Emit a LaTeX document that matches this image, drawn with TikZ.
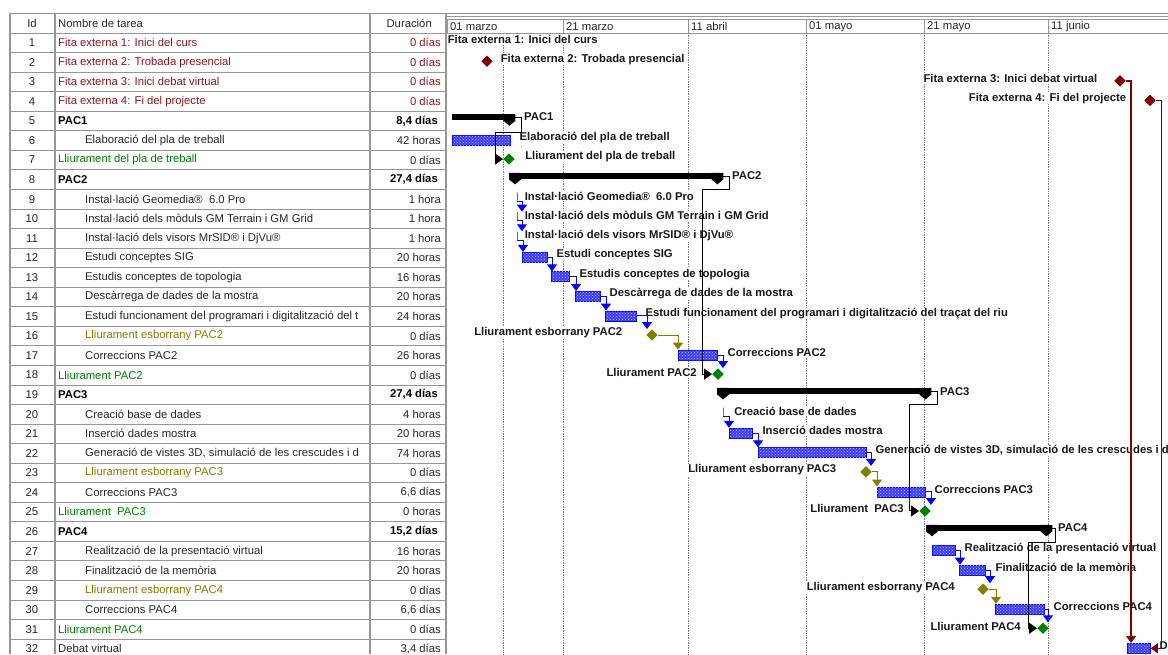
\documentclass[tikz,border=0pt]{standalone}
\usepackage{fontspec}
\setmainfont{Liberation Sans}
\usetikzlibrary{arrows.meta, calc, positioning, shapes.geometric, patterns}

\definecolor{fitared}{RGB}{128,0,0}
\definecolor{fitatext}{RGB}{140,25,25}
\definecolor{lliugreen}{RGB}{0,128,0}
\definecolor{esbolive}{RGB}{128,128,0}
\definecolor{barblue}{RGB}{60,60,250}
\definecolor{rulegray}{RGB}{150,150,150}
\definecolor{celltext}{RGB}{40,40,40}

% row centre (pixels, downwards)
\newcommand{\ry}[1]{23.2+19.55*#1}

\tikzset{
  every node/.style={inner sep=0pt, font=\fontsize{11.3}{13}\selectfont},
  rule/.style={draw=rulegray, line width=0.8pt},
  idcell/.style={text=celltext},
  namecell/.style={anchor=west, text=celltext},
  durcell/.style={anchor=east, text=celltext},
  sumcell/.style={font=\fontsize{11.3}{13}\selectfont\bfseries, text=black},
  fitacell/.style={text=fitatext},
  lliucell/.style={text=lliugreen},
  esbocell/.style={text=esbolive},
  datecell/.style={anchor=west, text=celltext},
  gridline/.style={densely dotted, draw=gray, line width=0.7pt},
  taskbar/.style={draw=blue, line width=0.8pt, fill=barblue, minimum height=10pt, anchor=west,
    postaction={pattern=crosshatch dots, pattern color=white!75!blue}},
  tickbar/.style={draw=blue, line width=1pt, minimum height=8pt, minimum width=0pt},
  sumbar/.style={fill=black, minimum height=6pt, anchor=west},
  sumcap/.style={fill=black},
  fitamark/.style={diamond, fill=fitared, minimum size=11.5pt},
  lliumark/.style={diamond, fill=lliugreen, minimum size=11.5pt},
  esbomark/.style={diamond, fill=esbolive, minimum size=11.5pt},
  tasklabel/.style={font=\fontsize{11.3}{13}\selectfont\bfseries, text=black!90, fill=white, inner sep=0.6pt},
  link/.style={draw=blue, line width=1pt, -{Triangle[width=10pt, length=7pt]}},
  esbolink/.style={draw=esbolive, line width=1pt, -{Triangle[width=10pt, length=7pt]}},
  sumlink/.style={draw=black, line width=1pt, -{Triangle[width=11pt, length=8pt]}},
  fitalink/.style={draw=fitared, line width=1.3pt, -{Triangle[width=10pt, length=7pt]}},
}

\begin{document}
\begin{tikzpicture}[x=1pt, y=-1pt]
  \useasboundingbox (0,0) rectangle (1168,654);
  \fill[white] (0,0) rectangle (1168,654);
  \clip (0,0) rectangle (1168,654);

  % table grid
  \draw[rule] (10,13) -- (446,13);
  \foreach \i in {0,...,32}
    \draw[rule] (10,{33+19.55*\i}) -- (446,{33+19.55*\i});
  \foreach \x in {10,55,370,446}
    \draw[rule, line width=1.2pt] (\x,13) -- (\x,654);

  % table header
  \node[idcell] (hid) at (32,23) {Id};
  \node[namecell] (hname) at (58,23) {Nombre de tarea};
  \node[durcell] (hdur) at (432,23) {Duración};

  % ids
  \foreach \i in {1,...,32}
    \node[idcell] (id\i) at (32,{\ry{\i}}) {\i};

  % task names
  \node[namecell, fitacell] (n1) at (58,{\ry{1}}) {Fita externa 1: Inici del curs};
  \node[namecell, fitacell] (n2) at (58,{\ry{2}}) {Fita externa 2: Trobada presencial};
  \node[namecell, fitacell] (n3) at (58,{\ry{3}}) {Fita externa 3: Inici debat virtual};
  \node[namecell, fitacell] (n4) at (58,{\ry{4}}) {Fita externa 4: Fi del projecte};
  \node[namecell, sumcell] (n5) at (58,{\ry{5}}) {PAC1};
  \node[namecell] (n6) at (85,{\ry{6}}) {Elaboració del pla de treball};
  \node[namecell, lliucell] (n7) at (58,{\ry{7}}) {Lliurament del pla de treball};
  \node[namecell, sumcell] (n8) at (58,{\ry{8}}) {PAC2};
  \node[namecell] (n9) at (85,{\ry{9}}) {Instal·lació Geomedia®\ \ 6.0 Pro};
  \node[namecell] (n10) at (85,{\ry{10}}) {Instal·lació dels mòduls GM Terrain i GM Grid};
  \node[namecell] (n11) at (85,{\ry{11}}) {Instal·lació dels visors MrSID® i DjVu®};
  \node[namecell] (n12) at (85,{\ry{12}}) {Estudi conceptes SIG};
  \node[namecell] (n13) at (85,{\ry{13}}) {Estudis conceptes de topologia};
  \node[namecell] (n14) at (85,{\ry{14}}) {Descàrrega de dades de la mostra};
  \node[namecell] (n15) at (85,{\ry{15}}) {Estudi funcionament del programari i digitalització del t};
  \node[namecell, esbocell] (n16) at (85,{\ry{16}}) {Lliurament esborrany PAC2};
  \node[namecell] (n17) at (85,{\ry{17}}) {Correccions PAC2};
  \node[namecell, lliucell] (n18) at (58,{\ry{18}}) {Lliurament PAC2};
  \node[namecell, sumcell] (n19) at (58,{\ry{19}}) {PAC3};
  \node[namecell] (n20) at (85,{\ry{20}}) {Creació base de dades};
  \node[namecell] (n21) at (85,{\ry{21}}) {Inserció dades mostra};
  \node[namecell] (n22) at (85,{\ry{22}}) {Generació de vistes 3D, simulació de les crescudes i d};
  \node[namecell, esbocell] (n23) at (85,{\ry{23}}) {Lliurament esborrany PAC3};
  \node[namecell] (n24) at (85,{\ry{24}}) {Correccions PAC3};
  \node[namecell, lliucell] (n25) at (58,{\ry{25}}) {Lliurament\ \ PAC3};
  \node[namecell, sumcell] (n26) at (58,{\ry{26}}) {PAC4};
  \node[namecell] (n27) at (85,{\ry{27}}) {Realització de la presentació virtual};
  \node[namecell] (n28) at (85,{\ry{28}}) {Finalització de la memòria};
  \node[namecell, esbocell] (n29) at (85,{\ry{29}}) {Lliurament esborrany PAC4};
  \node[namecell] (n30) at (85,{\ry{30}}) {Correccions PAC4};
  \node[namecell, lliucell] (n31) at (58,{\ry{31}}) {Lliurament PAC4};
  \node[namecell] (n32) at (58,{\ry{32}}) {Debat virtual};

  % durations
  \node[durcell, fitacell] (d1) at (441,{\ry{1}}) {0 días};
  \node[durcell, fitacell] (d2) at (441,{\ry{2}}) {0 días};
  \node[durcell, fitacell] (d3) at (441,{\ry{3}}) {0 días};
  \node[durcell, fitacell] (d4) at (441,{\ry{4}}) {0 días};
  \node[durcell, sumcell] (d5) at (438,{\ry{5}}) {8,4 días};
  \node[durcell] (d6) at (441,{\ry{6}}) {42 horas};
  \node[durcell] (d7) at (441,{\ry{7}}) {0 días};
  \node[durcell, sumcell] (d8) at (438,{\ry{8}}) {27,4 días};
  \node[durcell] (d9) at (441,{\ry{9}}) {1 hora};
  \node[durcell] (d10) at (441,{\ry{10}}) {1 hora};
  \node[durcell] (d11) at (441,{\ry{11}}) {1 hora};
  \node[durcell] (d12) at (441,{\ry{12}}) {20 horas};
  \node[durcell] (d13) at (441,{\ry{13}}) {16 horas};
  \node[durcell] (d14) at (441,{\ry{14}}) {20 horas};
  \node[durcell] (d15) at (441,{\ry{15}}) {24 horas};
  \node[durcell] (d16) at (441,{\ry{16}}) {0 días};
  \node[durcell] (d17) at (441,{\ry{17}}) {26 horas};
  \node[durcell] (d18) at (441,{\ry{18}}) {0 días};
  \node[durcell, sumcell] (d19) at (438,{\ry{19}}) {27,4 días};
  \node[durcell] (d20) at (441,{\ry{20}}) {4 horas};
  \node[durcell] (d21) at (441,{\ry{21}}) {20 horas};
  \node[durcell] (d22) at (441,{\ry{22}}) {74 horas};
  \node[durcell] (d23) at (441,{\ry{23}}) {0 días};
  \node[durcell] (d24) at (441,{\ry{24}}) {6,6 días};
  \node[durcell] (d25) at (441,{\ry{25}}) {0 horas};
  \node[durcell, sumcell] (d26) at (438,{\ry{26}}) {15,2 días};
  \node[durcell] (d27) at (441,{\ry{27}}) {16 horas};
  \node[durcell] (d28) at (441,{\ry{28}}) {20 horas};
  \node[durcell] (d29) at (441,{\ry{29}}) {0 días};
  \node[durcell] (d30) at (441,{\ry{30}}) {6,6 días};
  \node[durcell] (d31) at (441,{\ry{31}}) {0 días};
  \node[durcell] (d32) at (441,{\ry{32}}) {3,4 días};

  % timescale
  \draw[rule] (446,13) -- (1168,13);
  \draw[rule] (446,16) -- (1168,16);
  \draw[rule] (446,19) -- (1168,19);
  \draw[rule] (446,33) -- (1168,33);
  \foreach \x/\d in {447/01 marzo, 563/21 marzo, 688/11 abril, 806/01 mayo, 924/21 mayo, 1048/11 junio} {
    \draw[rule] (\x,19) -- (\x,33);
    \node[datecell] (date\x) at (\x+3,26.5) {\d};
  }
  \foreach \x in {503,563,688,806,924,1048}
    \draw[gridline] (\x,33) -- (\x,654);

  % milestones
  \node[fitamark] (m2) at (487,{\ry{2}-1}) {};
  \node[fitamark] (m3) at (1120,{\ry{3}-1}) {};
  \node[fitamark] (m4) at (1150,{\ry{4}-1}) {};
  \node[lliumark] (m7) at (509,{\ry{7}-1}) {};
  \node[esbomark] (m16) at (652,{\ry{16}-1}) {};
  \node[lliumark] (m18) at (718,{\ry{18}-1}) {};
  \node[esbomark] (m23) at (866,{\ry{23}-1}) {};
  \node[lliumark] (m25) at (925,{\ry{25}-1}) {};
  \node[esbomark] (m29) at (983,{\ry{29}-1}) {};
  \node[lliumark] (m31) at (1043,{\ry{31}-1}) {};

  % summary bars
  \node[sumbar, minimum width=63pt] (s5) at (452,{\ry{5}-3.5}) {};
  \node[sumbar, minimum width=214pt] (s8) at (509,{\ry{8}-3.5}) {};
  \node[sumbar, minimum width=214pt] (s19) at (717,{\ry{19}-3.5}) {};
  \node[sumbar, minimum width=126pt] (s26) at (926,{\ry{26}-3.5}) {};
  \fill[sumcap] ($(s5.north east)+(-12,0)$) -- ++(12,0) -- ++(0,6.5) -- ++(-6,5) -- ++(-6,-5) -- cycle;
  \fill[sumcap] (s8.north west) -- ++(12,0) -- ++(0,6.5) -- ++(-6,5) -- ++(-6,-5) -- cycle;
  \fill[sumcap] ($(s8.north east)+(-12,0)$) -- ++(12,0) -- ++(0,6.5) -- ++(-6,5) -- ++(-6,-5) -- cycle;
  \fill[sumcap] (s19.north west) -- ++(12,0) -- ++(0,6.5) -- ++(-6,5) -- ++(-6,-5) -- cycle;
  \fill[sumcap] ($(s19.north east)+(-12,0)$) -- ++(12,0) -- ++(0,6.5) -- ++(-6,5) -- ++(-6,-5) -- cycle;
  \fill[sumcap] (s26.north west) -- ++(12,0) -- ++(0,6.5) -- ++(-6,5) -- ++(-6,-5) -- cycle;
  \fill[sumcap] ($(s26.north east)+(-12,0)$) -- ++(12,0) -- ++(0,6.5) -- ++(-6,5) -- ++(-6,-5) -- cycle;

  % task bars
  \node[taskbar, minimum width=58pt] (t6) at (452,{\ry{6}-0.5}) {};
  \node[tickbar] (t9) at (517,{\ry{9}-2.5}) {};
  \node[tickbar] (t10) at (517,{\ry{10}-2.5}) {};
  \node[tickbar] (t11) at (517,{\ry{11}-2.5}) {};
  \node[taskbar, minimum width=25pt] (t12) at (522,{\ry{12}-0.5}) {};
  \node[taskbar, minimum width=18pt] (t13) at (551,{\ry{13}-0.5}) {};
  \node[taskbar, minimum width=25pt] (t14) at (575,{\ry{14}-0.5}) {};
  \node[taskbar, minimum width=31pt] (t15) at (605,{\ry{15}-0.5}) {};
  \node[taskbar, minimum width=39pt] (t17) at (678,{\ry{17}-0.5}) {};
  \node[tickbar] (t20) at (723,{\ry{20}-2.5}) {};
  \node[taskbar, minimum width=23pt] (t21) at (729,{\ry{21}-0.5}) {};
  \node[taskbar, minimum width=108pt] (t22) at (758,{\ry{22}-0.5}) {};
  \node[taskbar, minimum width=48pt] (t24) at (877,{\ry{24}-0.5}) {};
  \node[taskbar, minimum width=23pt] (t27) at (932,{\ry{27}-0.5}) {};
  \node[taskbar, minimum width=26pt] (t28) at (959,{\ry{28}-0.5}) {};
  \node[taskbar, minimum width=49pt] (t30) at (995,{\ry{30}-0.5}) {};
  \node[taskbar, minimum width=23pt] (t32) at (1127,{\ry{32}-0.5}) {};

  % bar labels
  \node[tasklabel, anchor=west] (l1) at (447,{\ry{1}-3}) {Fita externa 1: Inici del curs};
  \node[tasklabel, right=7pt of m2, yshift=2pt] (l2) {Fita externa 2: Trobada presencial};
  \node[tasklabel, left=16pt of m3, yshift=2pt] (l3) {Fita externa 3: Inici debat virtual};
  \node[tasklabel, left=17pt of m4, yshift=2pt] (l4) {Fita externa 4: Fi del projecte};
  \node[tasklabel, right=8pt of s5, yshift=0.5pt] (l5) {PAC1};
  \node[tasklabel, right=8pt of t6, yshift=2.5pt] (l6) {Elaboració del pla de treball};
  \node[tasklabel, right=9.5pt of m7, yshift=2pt] (l7) {Lliurament del pla de treball};
  \node[tasklabel, right=8pt of s8] (l8) {PAC2};
  \node[tasklabel, right=6.5pt of t9, yshift=0.5pt] (l9) {Instal·lació Geomedia®\ \ 6.0 Pro};
  \node[tasklabel, right=6.5pt of t10, yshift=0.5pt] (l10) {Instal·lació dels mòduls GM Terrain i GM Grid};
  \node[tasklabel, right=6.5pt of t11, yshift=0.5pt] (l11) {Instal·lació dels visors MrSID® i DjVu®};
  \node[tasklabel, right=8pt of t12, yshift=2.5pt] (l12) {Estudi conceptes SIG};
  \node[tasklabel, right=9pt of t13, yshift=2.5pt] (l13) {Estudis conceptes de topologia};
  \node[tasklabel, right=8pt of t14, yshift=2.5pt] (l14) {Descàrrega de dades de la mostra};
  \node[tasklabel, right=8pt of t15, yshift=2.5pt] (l15) {Estudi funcionament del programari i digitalització del traçat del riu};
  \node[tasklabel, left=23pt of m16, yshift=2pt] (l16) {Lliurament esborrany PAC2};
  \node[tasklabel, right=9pt of t17, yshift=2.5pt] (l17) {Correccions PAC2};
  \node[tasklabel, left=14.5pt of m18, yshift=2pt] (l18) {Lliurament PAC2};
  \node[tasklabel, right=8pt of s19] (l19) {PAC3};
  \node[tasklabel, right=10pt of t20, yshift=0.5pt] (l20) {Creació base de dades};
  \node[tasklabel, right=9pt of t21, yshift=2.5pt] (l21) {Inserció dades mostra};
  \node[tasklabel, right=8pt of t22, yshift=2.5pt] (l22) {Generació de vistes 3D, simulació de les crescudes i de};
  \node[tasklabel, left=23pt of m23, yshift=2pt] (l23) {Lliurament esborrany PAC3};
  \node[tasklabel, right=8pt of t24, yshift=2.5pt] (l24) {Correccions PAC3};
  \node[tasklabel, left=14.5pt of m25, yshift=2pt] (l25) {Lliurament\ \ PAC3};
  \node[tasklabel, right=5pt of s26] (l26) {PAC4};
  \node[tasklabel, right=8pt of t27, yshift=2.5pt] (l27) {Realització de la presentació virtual};
  \node[tasklabel, right=9pt of t28, yshift=2.5pt] (l28) {Finalització de la memòria};
  \node[tasklabel, left=21.5pt of m29, yshift=2pt] (l29) {Lliurament esborrany PAC4};
  \node[tasklabel, right=8pt of t30, yshift=2.5pt] (l30) {Correccions PAC4};
  \node[tasklabel, left=15.5pt of m31, yshift=2pt] (l31) {Lliurament PAC4};
  \node[tasklabel, right=8pt of t32, yshift=2.5pt] (l32) {Debat virtual};

  % links between tasks
  \draw[link] (t9.south) -| ($(t10.north)+(5,0)$);
  \draw[link] (t10.south) -| ($(t11.north)+(5,0)$);
  \draw[link] (t11.south) -| ($(t12.north west)+(1,0)$);
  \draw[link] (t12.east) -| ($(t13.north west)+(1,0)$);
  \draw[link] (t13.east) -| ($(t14.north west)+(1,0)$);
  \draw[link] (t14.east) -| ($(t15.north west)+(1,0)$);
  \draw[link] (t15.east) -| ($(m16.north)+(-5,0)$);
  \draw[esbolink] (m16.east) -| (t17.north west);
  \draw[link] (t17.east) -| ($(m18.north)+(5,0)$);
  \draw[link] (t20.south) -| (t21.north west);
  \draw[link] (t21.east) -| (t22.north west);
  \draw[link] (t22.east) -| ($(m23.north)+(5,0)$);
  \draw[esbolink] (m23.east) -| (t24.north west);
  \draw[link] (t24.east) -| ($(m25.north)+(6,0)$);
  \draw[link] (t27.east) -| ($(t28.north west)+(1,0)$);
  \draw[link] (t28.east) -| ($(m29.north)+(7,0)$);
  \draw[esbolink] (m29.east) -| ($(t30.north west)+(1,0)$);
  \draw[link] (t30.east) -| ($(m31.north)+(5,0)$);

  % summary to delivery
  \draw[sumlink] (s5.east) -- ++(6,0) -- ++(0,15) -| ($(m7.west)+(-8,0)$) -- (m7.west);
  \draw[sumlink] (s8.east) -- ++(6,0) -- ++(0,13) -| ($(m18.west)+(-9.5,0)$) -- (m18.west);
  \draw[sumlink] (s19.east) -- ++(6,0) -- ++(0,13) -| ($(m25.west)+(-9.5,0)$) -- (m25.west);
  \draw[sumlink] (s26.east) -- ++(3,0) -- ++(0,14) -| ($(m31.west)+(-9,0)$) -- (m31.west);

  % external milestones to debate
  \draw[fitalink] (m3.east) -| ($(t32.north west)+(4,0)$);
  \draw[fitalink] (m4.east) -| ($(t32.east)+(11,0)$) -- (t32.east);
\end{tikzpicture}
\end{document}
